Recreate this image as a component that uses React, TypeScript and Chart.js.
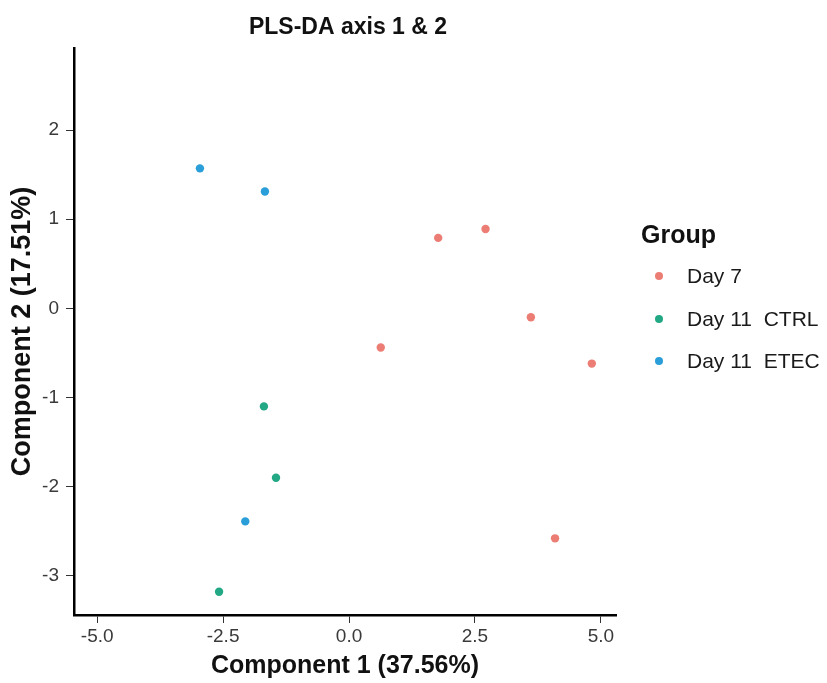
import React, { useEffect, useRef } from "react";
import { Chart, registerables } from "chart.js";

Chart.register(...registerables);

const groupNames = ["Day 7", "Day 11  CTRL", "Day 11  ETEC"];
const groupColors = ["#EC7D74", "#22A884", "#2A9ED8"];

const day7X = [1.77, 2.71, 3.61, 0.63, 4.82, 4.09];
const day7Y = [0.79, 0.89, -0.1, -0.44, -0.62, -2.58];
const ctrlX = [-1.69, -1.45, -2.58];
const ctrlY = [-1.1, -1.9, -3.18];
const etecX = [-2.96, -1.67, -2.06];
const etecY = [1.57, 1.31, -2.39];

const xTicks = [-5, -2.5, 0, 2.5, 5];
const yTicks = [-3, -2, -1, 0, 1, 2];

const chartTitle = "PLS-DA axis 1 & 2";
const xTitle = "Component 1 (37.56%)";
const yTitle = "Component 2 (17.51%)";
const legendTitle = "Group";

const FONT = "'Liberation Sans', Arial, sans-serif";

const toPoints = (xs: number[], ys: number[]) => xs.map((x, i) => ({ x, y: ys[i] }));

const decorPlugin = {
  id: "decor",
  afterDraw(chart: any) {
    const { ctx, chartArea } = chart;
    ctx.save();
    // Title
    ctx.fillStyle = "#111";
    ctx.textAlign = "center";
    ctx.textBaseline = "middle";
    ctx.font = `bold 23px ${FONT}`;
    ctx.fillText(chartTitle, 348, 28);
    // X axis title
    const cx = (chartArea.left + chartArea.right) / 2;
    const cy = (chartArea.top + chartArea.bottom) / 2;
    ctx.font = `bold 25px ${FONT}`;
    ctx.fillText(xTitle, cx, 666);
    // Y axis title
    ctx.save();
    ctx.translate(23, cy);
    ctx.rotate(-Math.PI / 2);
    ctx.font = `bold 27px ${FONT}`;
    ctx.fillText(yTitle, 0, 0);
    ctx.restore();
    // Legend
    ctx.textAlign = "left";
    ctx.font = `bold 25px ${FONT}`;
    ctx.fillText(legendTitle, 641, 236);
    const rows = [276, 319, 361];
    ctx.font = `21px ${FONT}`;
    chart.data.datasets.forEach((ds: any, i: number) => {
      ctx.beginPath();
      ctx.fillStyle = ds.backgroundColor;
      ctx.arc(659, rows[i], 4, 0, Math.PI * 2);
      ctx.fill();
      ctx.fillStyle = "#1a1a1a";
      ctx.fillText(ds.label, 687, rows[i] + 1);
    });
    ctx.restore();
  },
};

export default function App() {
  const ref = useRef<HTMLCanvasElement>(null);
  useEffect(() => {
    if (!ref.current) return;
    const series = [toPoints(day7X, day7Y), toPoints(ctrlX, ctrlY), toPoints(etecX, etecY)];
    const chart = new Chart(ref.current, {
      type: "scatter",
      data: {
        datasets: series.map((pts, i) => ({
          label: groupNames[i],
          data: pts,
          backgroundColor: groupColors[i],
          borderColor: groupColors[i],
          pointRadius: 4.2,
          pointBorderWidth: 0,
        })),
      },
      options: {
        responsive: false,
        animation: false,
        layout: { padding: { top: 48, right: 211, left: 0, bottom: 0 } },
        plugins: {
          legend: { display: false },
          title: { display: false },
          tooltip: { enabled: false },
        },
        scales: {
          x: {
            type: "linear",
            min: -5.46,
            max: 5.3,
            afterFit: (s: any) => {
              s.height = 68;
            },
            afterBuildTicks: (s: any) => {
              s.ticks = xTicks.map((v) => ({ value: v }));
            },
            border: { display: true, color: "#000", width: 2.5 },
            grid: { drawOnChartArea: false, drawTicks: true, tickLength: 8, tickColor: "#333", tickWidth: 1 },
            ticks: {
              color: "#3a3a3a",
              font: { family: FONT, size: 19 },
              padding: 2,
              maxRotation: 0,
              callback: (v: any) => Number(v).toFixed(1),
            },
          },
          y: {
            type: "linear",
            min: -3.44,
            max: 2.92,
            afterFit: (s: any) => {
              s.width = 74;
            },
            afterBuildTicks: (s: any) => {
              s.ticks = yTicks.map((v) => ({ value: v }));
            },
            border: { display: true, color: "#000", width: 2.5 },
            grid: { drawOnChartArea: false, drawTicks: true, tickLength: 8, tickColor: "#333", tickWidth: 1 },
            ticks: {
              color: "#3a3a3a",
              font: { family: FONT, size: 19 },
              padding: 7,
              callback: (v: any) => String(v),
            },
          },
        },
      },
      plugins: [decorPlugin],
    });
    return () => chart.destroy();
  }, []);
  return (
    <div style={{ position: "absolute", left: 0, top: 0, width: 827, height: 683, background: "#fff" }}>
      <canvas ref={ref} width={827} height={683} style={{ display: "block" }} />
    </div>
  );
}
